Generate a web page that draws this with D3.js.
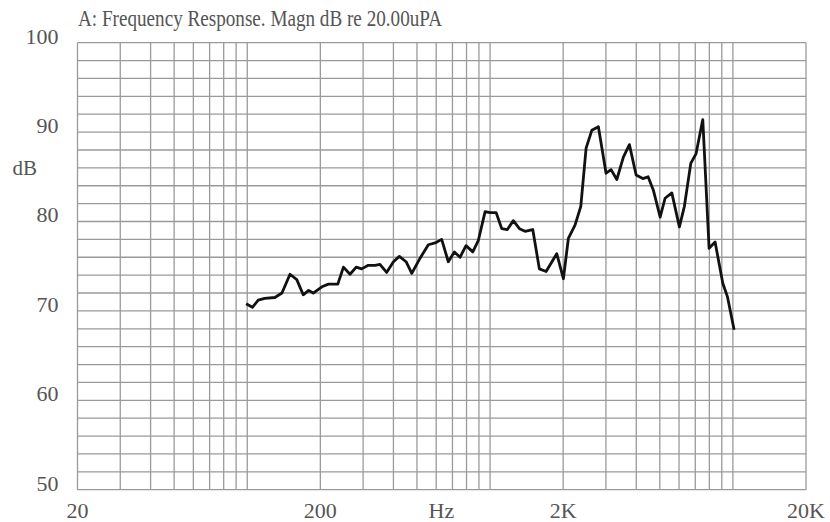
<!DOCTYPE html>
<meta charset="utf-8">

<!-- Load d3.js -->
<script src="https://d3js.org/d3.v7.min.js"></script>

<style>
  body { margin: 0; background: #fff; }
  text { font-family: "Liberation Serif", "DejaVu Serif", serif; fill: #555; }
</style>

<!-- Create a div where the graph will take place -->
<div id="my_dataviz"></div>

<script>

// frequency (Hz) and level (dB)
var freqs = [99, 105, 111, 118, 130, 139, 150, 160, 170, 179, 187, 203, 216, 236, 249, 265, 281, 296, 315, 336,
             352, 375, 400, 423, 451, 476, 515, 557, 594, 632, 673, 713, 752, 796, 849, 895, 954, 1000, 1059, 1117,
             1178, 1247, 1321, 1393, 1499, 1596, 1701, 1882, 2004, 2101, 2238, 2364, 2486, 2624, 2793, 3004, 3150, 3326, 3540, 3748,
             3994, 4257, 4474, 4704, 5015, 5257, 5604, 6020, 6313, 6707, 7054, 7516, 7980, 8446, 9086, 9492, 10114]
var levels = [70.8, 70.4, 71.2, 71.4, 71.5, 72.0, 74.1, 73.5, 71.8, 72.3, 72.0, 72.7, 73.0, 73.0, 74.9, 74.1, 74.9, 74.7, 75.1, 75.1,
              75.2, 74.3, 75.5, 76.1, 75.5, 74.2, 75.9, 77.4, 77.6, 78.0, 75.5, 76.6, 76.0, 77.3, 76.6, 77.9, 81.1, 81.0, 81.0, 79.2,
              79.1, 80.1, 79.2, 78.9, 79.1, 74.7, 74.4, 76.4, 73.6, 78.1, 79.6, 81.7, 88.2, 90.2, 90.6, 85.4, 85.8, 84.7, 87.2, 88.6,
              85.2, 84.8, 85.0, 83.5, 80.5, 82.6, 83.2, 79.4, 81.7, 86.5, 87.6, 91.4, 77.0, 77.7, 73.1, 71.6, 67.9]

// tick labels
var xTickValues = [20, 200, 2000, 20000]
var xTickLabels = ["20", "200", "2K", "20K"]
var yTickValues = [50, 60, 70, 80, 90, 100]

var data = freqs.map(function(f, i) { return { f: f, db: levels[i] } })

// set the dimensions and margins of the graph
var margin = {top: 42.7, right: 24, bottom: 32.3, left: 77.5},
    width = 830 - margin.left - margin.right,
    height = 522 - margin.top - margin.bottom;

var svg = d3.select("#my_dataviz")
  .append("svg")
    .attr("width", 830)
    .attr("height", 522)

var g = svg.append("g")
    .attr("transform", "translate(" + margin.left + "," + margin.top + ")");

// X axis: log frequency
var x = d3.scaleLog()
  .domain([20, 20000])
  .range([0, width]);

// Y axis: dB
var y = d3.scaleLinear()
  .domain([50, 100])
  .range([height, 0]);

// vertical grid, every 1..9 of each decade
g.append("g")
  .selectAll("line")
  .data(x.ticks())
  .enter()
  .append("line")
    .attr("x1", function(d) { return x(d) })
    .attr("x2", function(d) { return x(d) })
    .attr("y1", 0)
    .attr("y2", height)
    .attr("stroke", "#9a9a9a")
    .attr("stroke-width", 1.3)

// horizontal grid, every 2 dB
g.append("g")
  .selectAll("line")
  .data(d3.range(50, 101, 2))
  .enter()
  .append("line")
    .attr("x1", 0)
    .attr("x2", width)
    .attr("y1", function(d) { return y(d) })
    .attr("y2", function(d) { return y(d) })
    .attr("stroke", "#9a9a9a")
    .attr("stroke-width", 1.3)

// y tick labels
g.append("g")
  .selectAll("text")
  .data(yTickValues)
  .enter()
  .append("text")
    .attr("x", -19)
    .attr("y", function(d) { return y(d) + 1 })
    .attr("text-anchor", "end")
    .style("font-size", "22px")
    .text(function(d) { return d })

// x tick labels
g.append("g")
  .selectAll("text")
  .data(xTickValues)
  .enter()
  .append("text")
    .attr("x", function(d) { return x(d) })
    .attr("y", height + 28)
    .attr("text-anchor", "middle")
    .style("font-size", "22px")
    .text(function(d, i) { return xTickLabels[i] })

// unit labels
g.append("text")
  .attr("x", x(630))
  .attr("y", height + 28)
  .attr("text-anchor", "middle")
  .style("font-size", "22px")
  .text("Hz")

g.append("text")
  .attr("x", -65)
  .attr("y", y(85.2))
  .style("font-size", "21px")
  .text("dB")

// title
svg.append("text")
  .attr("x", 78)
  .attr("y", 26)
  .attr("textLength", 364)
  .attr("lengthAdjust", "spacingAndGlyphs")
  .style("font-size", "24px")
  .text("A: Frequency Response. Magn dB re 20.00uPA")

// the response curve
g.append("path")
  .datum(data)
  .attr("d", d3.line()
    .x(function(d) { return x(d.f) })
    .y(function(d) { return y(d.db) })
  )
  .attr("stroke", "#111")
  .style("stroke-width", 2.8)
  .style("stroke-linejoin", "round")
  .style("fill", "none")

</script>
